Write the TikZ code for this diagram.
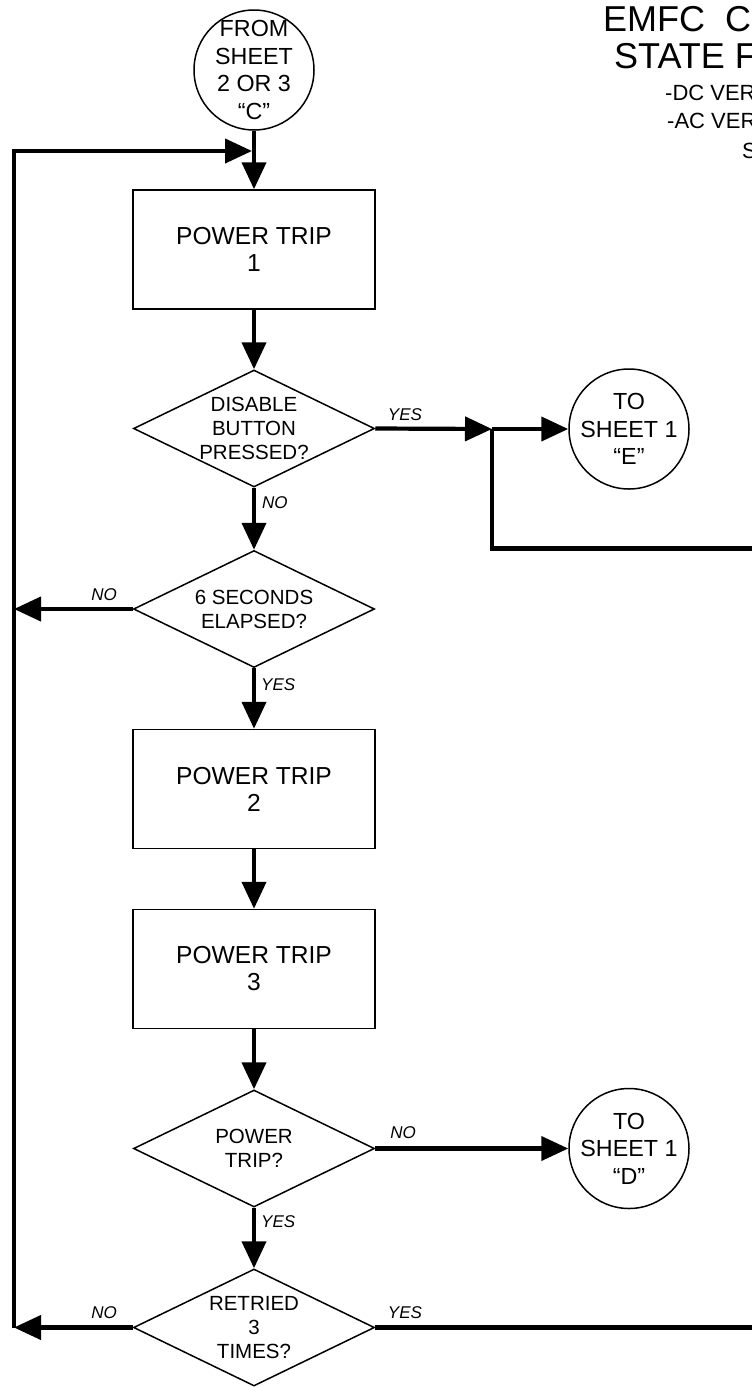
\documentclass[tikz,border=0pt]{standalone}
\usepackage{fontspec}
\setmainfont{Liberation Sans}
\usepackage{tikz}
\usetikzlibrary{shapes.geometric,arrows.meta}

\tikzset{
  process/.style={draw, line width=1.5pt, rectangle, minimum width=242pt,
    minimum height=119pt, inner sep=0pt, align=center,
    font=\fontsize{24.6}{27}\selectfont},
  decision/.style={draw, line width=1.5pt, diamond, minimum width=241pt,
    minimum height=117pt, inner sep=0pt},
  sheetref/.style={draw, line width=1.5pt, circle, minimum size=120pt, inner sep=0pt},
  dtext/.style={align=center, font=\fontsize{20.5}{24}\selectfont},
  ctext/.style={align=center, font=\fontsize{23.3}{27.5}\selectfont},
  answer/.style={inner sep=0pt, font=\fontsize{17}{17}\selectfont\itshape},
  flow/.style={line width=4.2pt, -{Triangle[length=27pt,width=24pt]}},
  wire/.style={line width=4.2pt},
}

\begin{document}
\begin{tikzpicture}[x=1pt, y=-1pt]
  \useasboundingbox (0,0) rectangle (752,1387);

  % heading (runs off the sheet edge)
  \node[anchor=base west, inner sep=0pt, font=\fontsize{36}{36}\selectfont] (head1) at (603,31) {EMFC~~C};
  \node[anchor=base west, inner sep=0pt, font=\fontsize{36}{36}\selectfont] (head2) at (614,68.5) {STATE F};
  \node[anchor=base west, inner sep=0pt, font=\fontsize{22}{22}\selectfont] (head3) at (665,100) {-DC VER};
  \node[anchor=base west, inner sep=0pt, font=\fontsize{22}{22}\selectfont] (head4) at (667,128.5) {-AC VER};
  \node[anchor=base west, inner sep=0pt, font=\fontsize{22}{22}\selectfont] (head5) at (742,158) {S};

  % off-sheet connectors
  \node[sheetref, label={[ctext]center:{FROM\\SHEET\\2 OR 3\\“C”}}] (fromC) at (254,70) {};
  \node[sheetref, label={[ctext]center:{TO\\SHEET 1\\“E”}}] (toE) at (629,429) {};
  \node[sheetref, label={[ctext]center:{TO\\SHEET 1\\“D”}}] (toD) at (629,1148.5) {};

  % main column
  \node[process] (trip1) at (254,249.5) {POWER TRIP\\1};
  \node[decision, label={[dtext]center:{DISABLE\\BUTTON\\PRESSED?}}] (disable) at (254,428.5) {};
  \node[decision, label={[dtext]center:{6 SECONDS\\ELAPSED?}}] (elapsed) at (254,609) {};
  \node[process] (trip2) at (254,789) {POWER TRIP\\2};
  \node[process] (trip3) at (254,969) {POWER TRIP\\3};
  \node[decision, label={[dtext]center:{POWER\\TRIP?}}] (tripped) at (254,1148.5) {};
  \node[decision, label={[dtext]center:{RETRIED\\3\\TIMES?}}] (retried) at (254,1327.5) {};

  \coordinate (merge) at (252,151);
  \coordinate (looptop) at (14,151);
  \coordinate (loopbot) at (14,1327.5);
  \coordinate (split) at (492,429);
  \coordinate (offE) at (760,548.5);
  \coordinate (offY) at (760,1327.5);

  \draw[flow] (fromC) -- (trip1);
  \draw[flow] (trip1) -- (disable);
  \draw[flow] (disable) -- (elapsed);
  \draw[flow] (elapsed) -- (trip2);
  \draw[flow] (trip2) -- (trip3);
  \draw[flow] (trip3) -- (tripped);
  \draw[flow] (tripped) -- (retried);

  \draw[flow] (disable.east) -- (split);
  \draw[flow] (split) -- (toE);
  \draw[wire] (split) |- (offE);
  \draw[flow] (tripped.east) -- (toD);
  \draw[wire] (retried.east) -- (offY);

  \draw[flow] (elapsed.west) -- (elapsed.west -| looptop);
  \draw[flow] (retried.west) -- (loopbot);
  \draw[flow] (loopbot) -- (looptop) -- (merge);

  % answers
  \node[answer, anchor=west] (no1) at (262,503) {NO};
  \node[answer] (yes1) at (405,415) {YES};
  \node[answer] (no2) at (104,595) {NO};
  \node[answer, anchor=west] (yes2) at (261,685) {YES};
  \node[answer] (no3) at (403,1133) {NO};
  \node[answer, anchor=west] (yes3) at (261,1222) {YES};
  \node[answer] (no4) at (104,1313) {NO};
  \node[answer] (yes4) at (405,1313) {YES};
\end{tikzpicture}
\end{document}
